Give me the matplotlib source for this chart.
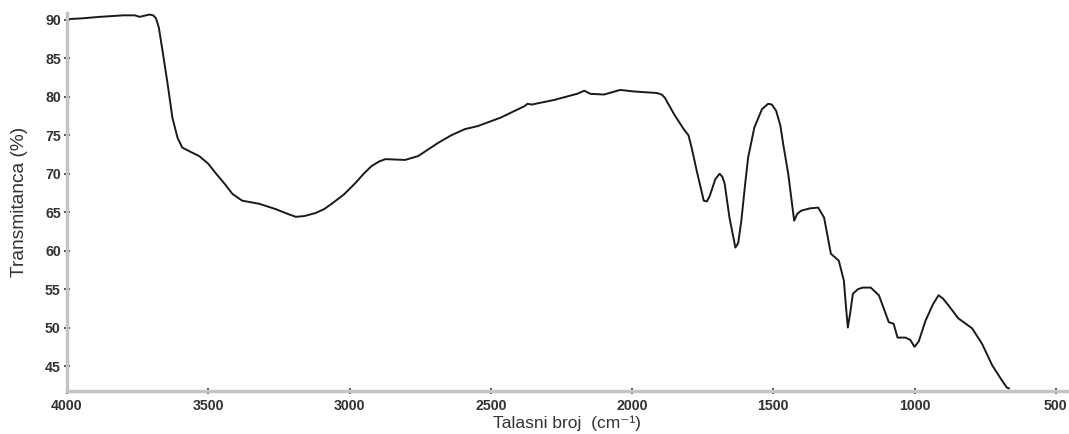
"""FTIR spectrum: transmittance vs wavenumber."""
import matplotlib
matplotlib.use('Agg')
import matplotlib.pyplot as plt
from matplotlib.ticker import MultipleLocator

plt.rcParams['font.family'] = ['Liberation Sans', 'DejaVu Sans']

# wavenumber (cm-1) and transmittance (%)
wavenumber = [
    4000, 3950, 3884, 3800, 3760, 3743, 3720, 3708, 3695, 3685, 3675, 3662,
    3644, 3627, 3609, 3592, 3560, 3532, 3500, 3472, 3440, 3415, 3380, 3320,
    3261, 3220, 3190, 3160, 3120, 3090, 3063, 3020, 2979, 2950, 2922, 2895,
    2873, 2803, 2757, 2720, 2687, 2640, 2592, 2546, 2465, 2380, 2370, 2355,
    2275, 2194, 2169, 2148, 2099, 2042, 1993, 1912, 1895, 1884, 1852, 1817,
    1800, 1789, 1771, 1746, 1735, 1725, 1705, 1690, 1680, 1672, 1655, 1634,
    1624, 1613, 1600, 1589, 1567, 1540, 1518, 1505, 1490, 1475, 1465, 1447,
    1426, 1415, 1401, 1370, 1341, 1320, 1296, 1268, 1250, 1243, 1236, 1228,
    1218, 1200, 1183, 1155, 1126, 1091, 1074, 1060, 1032, 1015, 1000, 985,
    961, 935, 915, 900, 880, 845, 796, 761, 725, 690, 673, 666,
]
transmittance = [
    90.1, 90.2, 90.4, 90.6, 90.6, 90.4, 90.6, 90.7, 90.6, 90.2, 89.0, 86.0,
    81.7, 77.3, 74.7, 73.4, 72.8, 72.3, 71.3, 70.0, 68.6, 67.4, 66.5, 66.1,
    65.4, 64.8, 64.4, 64.5, 64.9, 65.4, 66.1, 67.3, 68.8, 70.0, 71.0, 71.6,
    71.9, 71.8, 72.3, 73.2, 74.0, 75.0, 75.8, 76.2, 77.3, 78.8, 79.1, 79.0,
    79.6, 80.4, 80.8, 80.4, 80.3, 80.9, 80.7, 80.5, 80.3, 79.9, 77.8, 75.8,
    75.0, 73.4, 70.4, 66.5, 66.4, 67.1, 69.3, 70.0, 69.6, 68.7, 64.3, 60.4,
    61.0, 63.9, 68.5, 72.1, 76.0, 78.4, 79.1, 79.0, 78.2, 76.3, 73.9, 70.0,
    63.9, 64.8, 65.2, 65.5, 65.6, 64.3, 59.6, 58.7, 56.1, 52.9, 50.0, 51.8,
    54.4, 55.0, 55.2, 55.2, 54.2, 50.7, 50.5, 48.7, 48.7, 48.4, 47.5, 48.2,
    50.9, 53.0, 54.2, 53.8, 52.9, 51.2, 49.9, 47.9, 45.1, 43.1, 42.2, 42.1,
]

fig = plt.figure(figsize=(10.69, 4.34), dpi=100)
ax = fig.add_axes([0.0627, 0.099, 0.936, 0.871])

ax.plot(wavenumber, transmittance, color='#1a1a1a', linewidth=1.4)

ax.set_xlim(4000, 458)
ax.set_ylim(41.75, 90.9)

ax.xaxis.set_major_locator(MultipleLocator(500))
ax.xaxis.set_minor_locator(MultipleLocator(100))
ax.yaxis.set_major_locator(MultipleLocator(5))
ax.yaxis.set_minor_locator(MultipleLocator(1))

for spine in ['top', 'right']:
    ax.spines[spine].set_visible(False)
for spine in ['left', 'bottom']:
    ax.spines[spine].set_color('#c4c4c4')
    ax.spines[spine].set_linewidth(2.5)

ax.tick_params(which='major', direction='inout', length=5, width=1.2,
               color='#333333', labelcolor='#333333', labelsize=10.2)
ax.tick_params(which='minor', direction='inout', length=2, width=1.2,
               color='#333333')
ax.tick_params(axis='x', which='major', pad=3)
ax.tick_params(axis='y', which='major', pad=2)
for lbl in ax.get_xticklabels() + ax.get_yticklabels():
    lbl.set_fontweight('bold')

ax.set_xlabel('Talasni broj  (cm\u207b\u00b9)', fontsize=12.5, color='#333333',
              labelpad=2)
ax.set_ylabel('Transmitanca (%)', fontsize=13.8, color='#333333', labelpad=12)

fig.savefig('out.png', dpi=100, facecolor='white')
plt.close(fig)
